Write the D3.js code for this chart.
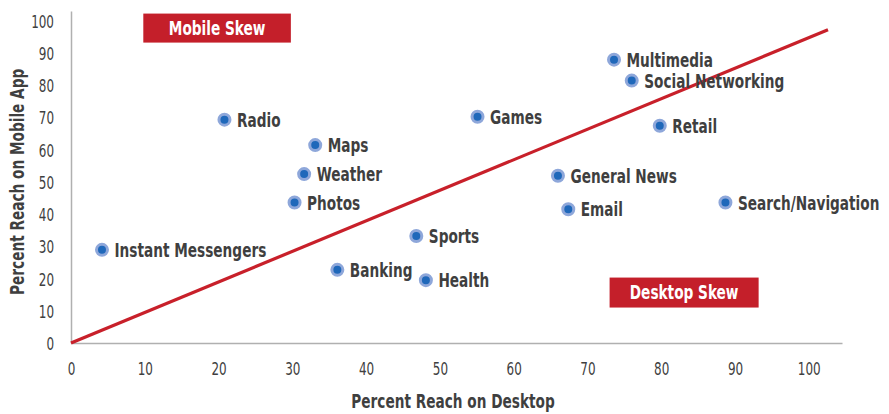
<!DOCTYPE html>
<html lang="en">
<head>
    <meta charset="UTF-8">
    <title>Mobile vs Desktop Reach</title>
    <script src="https://d3js.org/d3.v7.min.js"></script>
    <style>
        body{
            margin: 0;
            background: white;
        }
        svg text{
            font-family: "DejaVu Sans Condensed", "Liberation Sans Narrow", sans-serif;
            fill: #3f3f3f;
        }
        .tick text{
            font-size: 18px;
        }
        .lbl{
            font-size: 20px;
            font-weight: bold;
        }
        .title{
            font-size: 20px;
            font-weight: bold;
        }
        .skew text{
            fill: white;
            font-size: 19px;
            font-weight: bold;
        }
    </style>
</head>
<body>
<svg id="canvas" width="889" height="414"></svg>
<script>
    // categories and their reach values
    let categories = ["Instant Messengers","Radio","Maps","Weather","Photos","Sports","Banking","Health",
        "Games","Multimedia","Social Networking","Retail","General News","Email","Search/Navigation"]
    let desktopReach = [4.2, 20.8, 33.1, 31.6, 30.3, 46.8, 36.1, 48.1, 55.1, 73.6, 76.0, 79.8, 66.0, 67.4, 88.7]
    let mobileReach = [28.9, 69.3, 61.4, 52.4, 43.6, 33.2, 22.7, 19.5, 70.2, 87.9, 81.4, 67.4, 51.9, 41.5, 43.6]
    let xTicks = [0,10,20,30,40,50,60,70,80,90,100]
    let yTicks = [0,10,20,30,40,50,60,70,80,90,100]
    let parityLine = [[0,0],[102.6,97.2]]

    // the reference uses a condensed face, so squeeze text horizontally
    let squeeze = 0.76
    let boxSqueeze = 0.8
    let tickSqueeze = 0.74

    let svg = d3.select('svg')
    let x = d3.scaleLinear().domain([0,104.5]).range([71,842])
    let y = d3.scaleLinear().domain([0,103]).range([343,11])

    let xAxis = svg.append('g')
        .attr("transform","translate(0,"+y(0)+")")
        .call(d3.axisBottom(x).tickValues(xTicks).tickSize(0).tickPadding(19))
    let yAxis = svg.append('g')
        .attr("transform","translate("+x(0)+",0)")
        .call(d3.axisLeft(y).tickValues(yTicks).tickSize(0).tickPadding(17/tickSqueeze))
    svg.selectAll('.domain').attr("stroke","#b0b0b0").attr("stroke-width",1.5)
    svg.selectAll('.tick text').attr("transform","scale("+tickSqueeze+",1)")
    yAxis.selectAll('.tick text').attr("dy","0.36em")

    // skew boxes
    let boxes = [
        {text:"Mobile Skew", x0:9.8, x1:29.8, y0:102.2, y1:93.2},
        {text:"Desktop Skew", x0:73, x1:93.2, y0:20.3, y1:11}
    ]
    let box = svg.selectAll('g.skew').data(boxes).enter().append('g').attr("class","skew")
    box.append('rect')
        .attr("x",d=>x(d.x0)).attr("y",d=>y(d.y0))
        .attr("width",d=>x(d.x1)-x(d.x0)).attr("height",d=>y(d.y1)-y(d.y0))
        .attr("fill","#c41f2a")
    box.append('text')
        .attr("transform",d=>"translate("+(x(d.x0)+x(d.x1))/2+","+(y(d.y0)+y(d.y1))/2+") scale("+boxSqueeze+",1)")
        .attr("dy","0.36em").attr("text-anchor","middle")
        .text(d=>d.text)

    // parity line
    svg.append('path')
        .datum(parityLine)
        .attr("d",d3.line().x(d=>x(d[0])).y(d=>y(d[1])))
        .attr("stroke","#c8202a").attr("stroke-width",3.2).attr("fill","none")

    let pts = categories.map((c,i)=>({name:c, dx:desktopReach[i], my:mobileReach[i]}))
    let g = svg.selectAll('g.pt').data(pts).enter().append('g').attr("class","pt")
        .attr("transform",d=>"translate("+x(d.dx)+","+y(d.my)+")")
    g.append('circle')
        .attr("r",5.5)
        .attr("fill","#1f68ba")
        .attr("stroke","#8ea7da")
        .attr("stroke-width",3)
    g.append('text')
        .attr("class","lbl")
        .attr("transform","translate(12.5,0) scale("+squeeze+",1)")
        .attr("dy","0.36em")
        .text(d=>d.name)

    svg.append('text')
        .attr("class","title")
        .attr("transform","translate(453,408) scale("+squeeze+",1)")
        .attr("text-anchor","middle")
        .text("Percent Reach on Desktop")
    svg.append('text')
        .attr("class","title")
        .attr("transform","translate(24,"+y(50)+") rotate(-90) scale("+squeeze+",1)")
        .attr("text-anchor","middle")
        .text("Percent Reach on Mobile App")
</script>
</body>
</html>
